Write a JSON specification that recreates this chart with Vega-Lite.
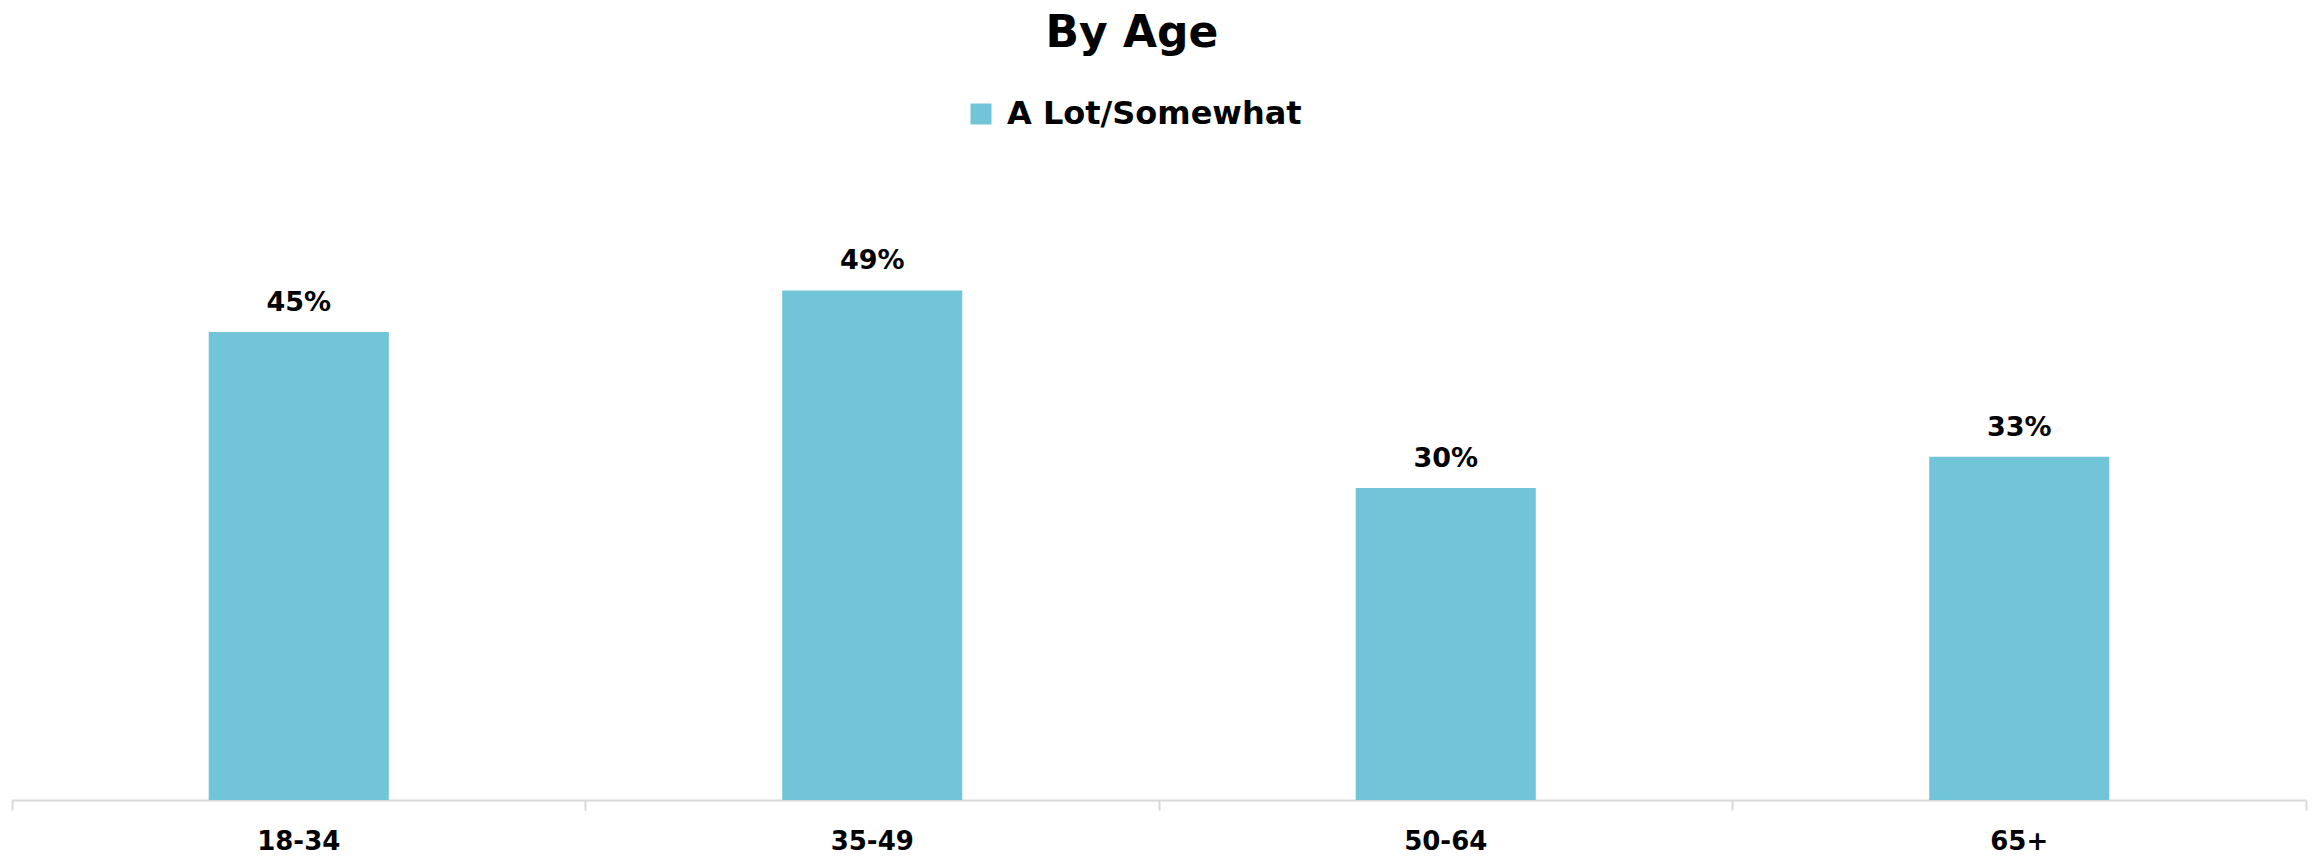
{
  "$schema": "https://vega.github.io/schema/vega-lite/v6.json",
  "width": 2294,
  "height": 650,
  "autosize": {"type": "none"},
  "padding": {"left": 12, "top": 150, "right": 12, "bottom": 58},
  "background": "white",
  "title": {
    "text": "By Age",
    "font": "DejaVu Sans",
    "fontSize": 44,
    "fontWeight": "bold",
    "color": "#000000",
    "anchor": "middle",
    "dx": -27,
    "offset": 42
  },
  "data": {
    "values": [
      {"age": "18-34", "series": "A Lot/Somewhat", "value": 0.45},
      {"age": "35-49", "series": "A Lot/Somewhat", "value": 0.49},
      {"age": "50-64", "series": "A Lot/Somewhat", "value": 0.30},
      {"age": "65+", "series": "A Lot/Somewhat", "value": 0.33}
    ]
  },
  "encoding": {
    "x": {
      "field": "age",
      "type": "nominal",
      "sort": null,
      "scale": {"paddingInner": 0, "paddingOuter": 0},
      "axis": {
        "title": null,
        "labelAngle": 0,
        "labelFont": "DejaVu Sans",
        "labelFontWeight": "bold",
        "labelFontSize": 26,
        "labelColor": "#000000",
        "labelBaseline": "alphabetic",
        "labelPadding": 39,
        "domainColor": "#D9D9D9",
        "domainWidth": 2,
        "tickColor": "#D9D9D9",
        "tickWidth": 2,
        "tickSize": 10,
        "bandPosition": 1,
        "tickExtra": true,
        "grid": false
      }
    },
    "y": {
      "field": "value",
      "type": "quantitative",
      "scale": {"domain": [0, 0.625]},
      "axis": null
    }
  },
  "layer": [
    {
      "mark": {"type": "bar", "width": {"band": 0.314}},
      "encoding": {
        "color": {
          "field": "series",
          "type": "nominal",
          "scale": {"range": ["#72C5D8"]},
          "legend": {
            "title": null,
            "orient": "none",
            "legendX": 953,
            "legendY": -52,
            "symbolType": "square",
            "symbolSize": 441,
            "symbolStrokeWidth": 0,
            "labelFont": "DejaVu Sans",
            "labelFontWeight": "bold",
            "labelFontSize": 32,
            "labelColor": "#000000",
            "labelOffset": 10,
            "labelLimit": 0,
            "padding": 0
          }
        }
      }
    },
    {
      "mark": {
        "type": "text",
        "dy": -29,
        "font": "DejaVu Sans",
        "fontWeight": "bold",
        "fontSize": 27,
        "color": "#000000"
      },
      "encoding": {
        "text": {"field": "value", "type": "quantitative", "format": ".0%"}
      }
    }
  ],
  "config": {"view": {"stroke": null}}
}
